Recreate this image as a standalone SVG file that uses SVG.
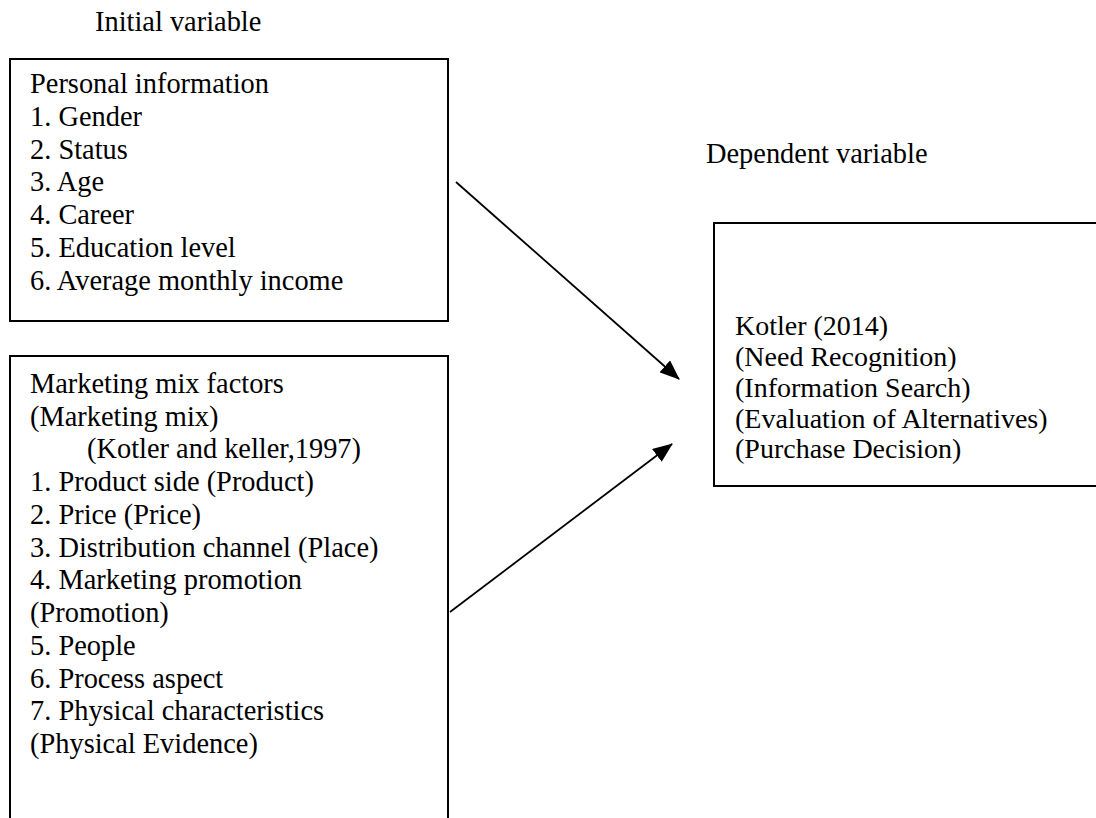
<svg xmlns="http://www.w3.org/2000/svg" width="1096" height="818" viewBox="0 0 1096 818">
<style>
text{font-family:"Liberation Serif","Times New Roman",serif;font-size:28.4px;fill:#000}
#kotler text{font-size:28px}
.box{fill:none;stroke:#000;stroke-width:2}
.conn{stroke:#000;stroke-width:1.8;fill:none}
</style>
<defs>
<marker id="ah" markerUnits="userSpaceOnUse" markerWidth="20" markerHeight="16" viewBox="0 0 20 16" refX="19" refY="8" orient="auto">
<path d="M0,0 L20,8 L0,16 Z" fill="#000"/>
</marker>
</defs>
<rect width="1096" height="818" fill="#fff"/>
<text x="95" y="31">Initial variable</text>
<text x="706" y="163">Dependent variable</text>
<g id="personal">
<rect class="box" x="10" y="59" width="438" height="262"/>
<text x="30" y="93">Personal information</text>
<text x="30" y="126">1. Gender</text>
<text x="30" y="159">2. Status</text>
<text x="30" y="191">3. Age</text>
<text x="30" y="224">4. Career</text>
<text x="30" y="257">5. Education level</text>
<text x="30" y="290">6. Average monthly income</text>
</g>
<g id="marketing">
<path class="box" d="M10,818 L10,356 L448,356 L448,818"/>
<text x="30" y="393">Marketing mix factors</text>
<text x="30" y="426">(Marketing mix)</text>
<text x="87" y="458">(Kotler and keller,1997)</text>
<text x="30" y="491">1. Product side (Product)</text>
<text x="30" y="524">2. Price (Price)</text>
<text x="30" y="557">3. Distribution channel (Place)</text>
<text x="30" y="589">4. Marketing promotion</text>
<text x="30" y="622">(Promotion)</text>
<text x="30" y="655">5. People</text>
<text x="30" y="688">6. Process aspect</text>
<text x="30" y="720">7. Physical characteristics</text>
<text x="30" y="753">(Physical Evidence)</text>
</g>
<g id="kotler">
<path class="box" d="M1096,223 L714,223 L714,486 L1096,486"/>
<text x="735" y="335">Kotler (2014)</text>
<text x="735" y="366">(Need Recognition)</text>
<text x="735" y="397">(Information Search)</text>
<text x="735" y="428">(Evaluation of Alternatives)</text>
<text x="735" y="458">(Purchase Decision)</text>
</g>
<g id="connectors">
<line class="conn" x1="456" y1="182" x2="679" y2="379" marker-end="url(#ah)"/>
<line class="conn" x1="450" y1="612" x2="672" y2="444" marker-end="url(#ah)"/>
</g>
</svg>
